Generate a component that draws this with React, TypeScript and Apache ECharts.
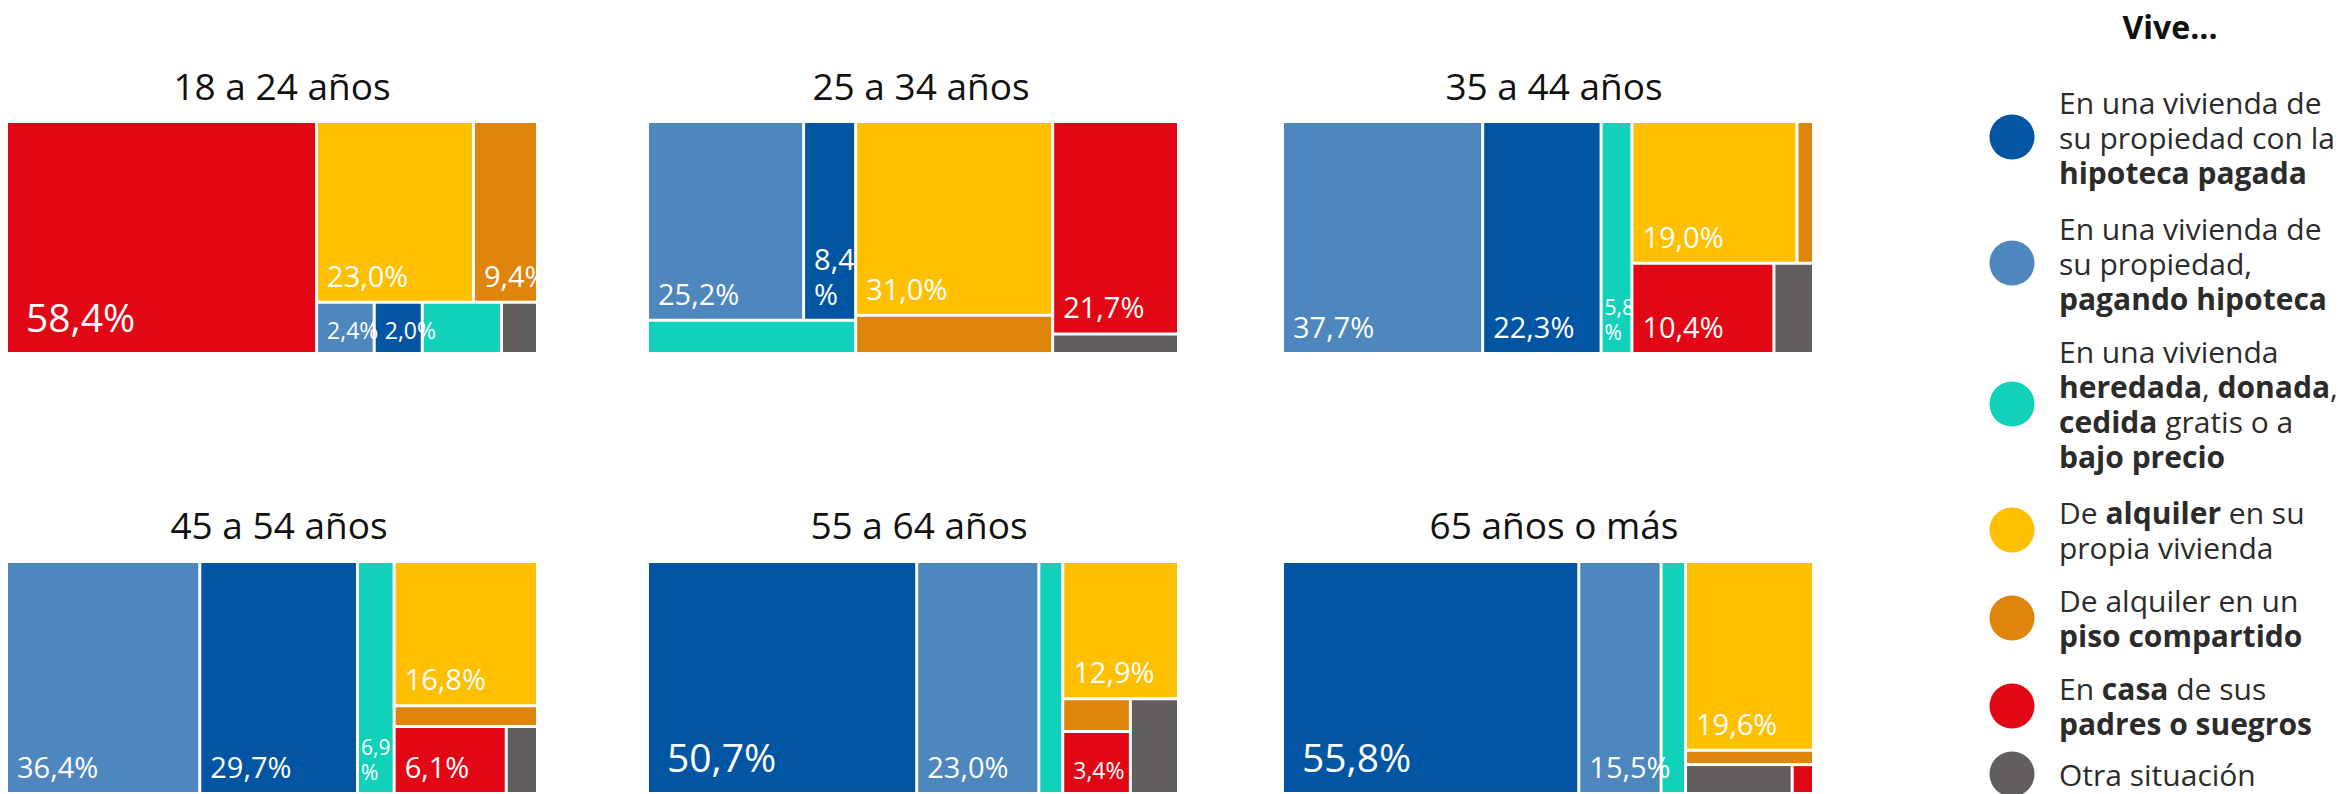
import React, { useEffect, useRef } from 'react';
import * as echarts from 'echarts';

// ---------- data ----------
const AGE_GROUPS = ['18 a 24 años', '25 a 34 años', '35 a 44 años', '45 a 54 años', '55 a 64 años', '65 años o más'];

const CATEGORIES = ['pagada', 'hipoteca', 'heredada', 'alquiler', 'compartido', 'padres', 'otra'];
const CATEGORY_COLORS = ['#0255a3', '#4d87be', '#12d1bb', '#fec000', '#e0850b', '#e20714', '#625e5d'];

// % per age group (same order as AGE_GROUPS)
const pagada = [2.0, 8.4, 22.3, 29.7, 50.7, 55.8];
const hipoteca = [2.4, 25.2, 37.7, 36.4, 23.0, 15.5];
const heredada = [3.3, 5.6, 5.8, 6.9, 4.5, 4.6];
const alquiler = [23.0, 31.0, 19.0, 16.8, 12.9, 19.6];
const compartido = [9.4, 6.1, 1.9, 2.4, 1.8, 1.5];
const padres = [58.4, 21.7, 10.4, 6.1, 3.4, 0.5];
const otra = [1.5, 2.0, 2.9, 1.7, 3.7, 2.5];

const VALUES: Record<string, number[]> = { pagada, hipoteca, heredada, alquiler, compartido, padres, otra };

const LEGEND_TITLE = 'Vive...';
const LEGEND_TEXTS = [
  'En una vivienda de\nsu propiedad con la\n{b|hipoteca pagada}',
  'En una vivienda de\nsu propiedad,\n{b|pagando hipoteca}',
  'En una vivienda\n{b|heredada}, {b|donada},\n{b|cedida} gratis o a\n{b|bajo precio}',
  'De {b|alquiler} en su\npropia vivienda',
  'De alquiler en un\n{b|piso compartido}',
  'En {b|casa} de sus\n{b|padres o suegros}',
  'Otra situación',
];

// grouping of the blocks inside each treemap (library needs a hierarchy)
type Spec = string | Spec[];
const GROUPINGS: Spec[][] = [
  ['padres', [['alquiler', 'compartido'], ['hipoteca', 'pagada', 'heredada', 'otra']]],
  [[['hipoteca', 'pagada'], 'heredada'], ['alquiler', 'compartido'], ['padres', 'otra']],
  [['hipoteca', 'pagada'], ['heredada', [['alquiler', 'compartido'], ['padres', 'otra']]]],
  [['hipoteca', 'pagada'], ['heredada', [['alquiler', 'compartido'], ['padres', 'otra']]]],
  [['pagada', 'hipoteca'], ['heredada', ['alquiler', 'compartido', 'padres', 'otra']]],
  [['pagada', 'hipoteca'], ['heredada', [['alquiler', 'compartido'], ['otra', 'padres']]]],
];
const SQUARE_RATIOS = [1, 1, 1.4, 1.47, 2, 2];

// ---------- layout ----------
const FONT = '"Open Sans", "Noto Sans", sans-serif';
const PANEL_LEFT = [8, 649, 1284];
const PANEL_TOP = [123, 563];
const PANEL_W = 528;
const PANEL_H = 229;
const TITLE_X = [[282, 921, 1554], [279, 919, 1554]];
const TITLE_Y = [85, 524];
const LEGEND_Y = [137, 263, 404, 530, 618, 706, 774];

const fmt = (v: number) => v.toFixed(1).replace('.', ',') + '%';
const isNarrow = (key: string, v: number) => key === 'heredada' && v < 7;
const labelSize = (key: string, v: number) =>
  v >= 50 ? 39 : isNarrow(key, v) ? 21 : v >= 5 ? 29 : 23;
const labelPadding = (key: string, v: number) =>
  v >= 50 ? [0, -20, 12, 18] : isNarrow(key, v) ? [0, -6, 8, 2] : [0, -20, 8, 9];
const showLabel = (key: string, v: number) => key !== 'otra' && v >= 2 && !(key === 'heredada' && v < 5);

function buildNode(spec: Spec, p: number): any {
  if (typeof spec === 'string') {
    const v = VALUES[spec][p];
    const fs = labelSize(spec, v);
    return {
      name: spec,
      value: v,
      itemStyle: { color: CATEGORY_COLORS[CATEGORIES.indexOf(spec)] },
      label: {
        show: showLabel(spec, v),
        fontSize: fs,
        lineHeight: Math.round(fs * 1.2),
        padding: labelPadding(spec, v),
      },
    };
  }
  return { name: 'g', children: spec.map((s) => buildNode(s, p)) };
}

export default function App() {
  const ref = useRef<HTMLDivElement>(null);
  useEffect(() => {
    document.body.style.margin = '0';
    document.body.style.overflow = 'hidden';
    const chart = echarts.init(ref.current!, null, { renderer: 'svg' });

    const series = AGE_GROUPS.map((_, i) => ({
      type: 'treemap',
      left: PANEL_LEFT[i % 3],
      top: PANEL_TOP[Math.floor(i / 3)],
      width: PANEL_W,
      height: PANEL_H,
      roam: false,
      nodeClick: false,
      sort: false,
      squareRatio: SQUARE_RATIOS[i],
      breadcrumb: { show: false },
      itemStyle: { borderWidth: 0, gapWidth: 3, borderColor: '#fff' },
      label: {
        show: true,
        position: 'insideBottomLeft',
        distance: 0,
        color: '#fff',
        fontFamily: FONT,
        overflow: 'breakAll',
        formatter: (p: any) => fmt(Number(p.value)),
      },
      upperLabel: { show: false },
      data: GROUPINGS[i].map((s) => buildNode(s, i)),
    }));

    const graphic: any[] = [];
    AGE_GROUPS.forEach((t, i) => {
      graphic.push({
        type: 'text',
        x: TITLE_X[Math.floor(i / 3)][i % 3],
        y: TITLE_Y[Math.floor(i / 3)],
        style: { text: t, fontSize: 37, fontFamily: FONT, fill: '#111', align: 'center', verticalAlign: 'middle' },
      });
    });
    graphic.push({
      type: 'text',
      x: 2170,
      y: 26,
      style: { text: LEGEND_TITLE, fontSize: 32, fontWeight: 'bold', fontFamily: FONT, fill: '#111', align: 'center', verticalAlign: 'middle' },
    });
    LEGEND_TEXTS.forEach((t, i) => {
      graphic.push({
        type: 'circle',
        shape: { cx: 2012, cy: LEGEND_Y[i], r: 22.5 },
        style: { fill: CATEGORY_COLORS[i] },
      });
      graphic.push({
        type: 'text',
        x: 2059,
        y: LEGEND_Y[i],
        style: {
          text: t,
          fontSize: 30,
          lineHeight: 35,
          fontFamily: FONT,
          fill: '#2b2b2b',
          align: 'left',
          verticalAlign: 'middle',
          rich: { b: { fontSize: 30, lineHeight: 35, fontFamily: FONT, fontWeight: 'bold', fill: '#2b2b2b' } },
        },
      });
    });

    chart.setOption({ animation: false, series, graphic });
    return () => chart.dispose();
  }, []);
  return <div ref={ref} style={{ width: 2351, height: 794 }} />;
}
